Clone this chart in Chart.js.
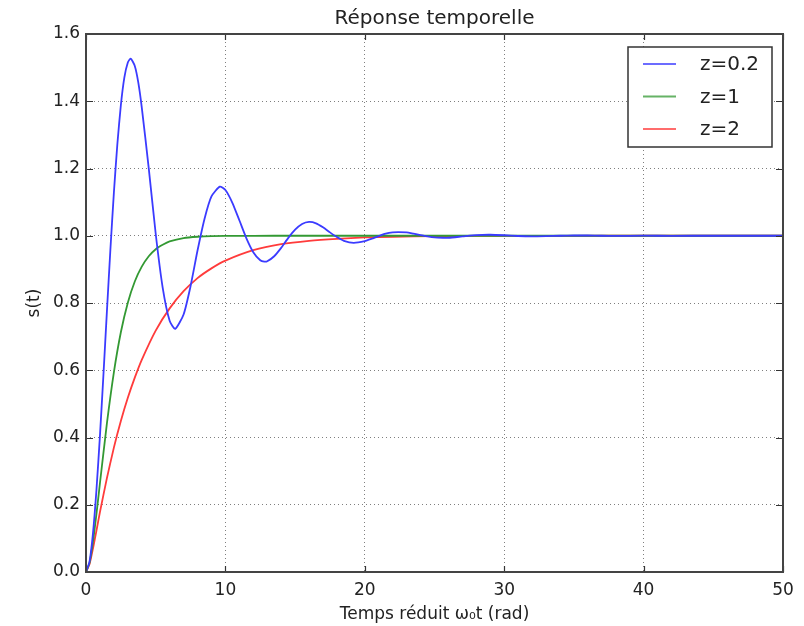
<!DOCTYPE html>
<html>
<head>
<meta charset="utf-8">
<script src="https://cdn.jsdelivr.net/npm/chart.js@4.4.1/dist/chart.umd.min.js"></script>
<style>
  html, body { margin: 0; padding: 0; background: #fff; }
  canvas { display: block; }
</style>
</head>
<body>
<canvas id="chart" width="804" height="626"></canvas>
<script>
// values
const labels = ["z=0.2", "z=1", "z=2"];

const tBlue = [0, 0.25, 0.5, 0.75, 1, 1.25, 1.5, 1.75, 2, 2.25, 2.5, 2.75, 3, 3.2, 3.5, 3.75, 4, 4.5, 5, 5.5,
  6, 6.4, 7, 7.5, 8, 8.5, 9, 9.6, 10, 10.5, 11, 11.5, 12, 12.5, 12.8, 13, 13.5, 14, 14.5, 15, 15.5,
  16, 16.5, 17, 17.5, 18, 18.5, 19.2, 20, 20.5, 21, 21.5, 22, 22.4, 23, 23.5, 24, 24.5, 25, 25.6, 26,
  27, 28, 29, 30, 31, 32, 33, 34, 35, 36, 37, 38, 40, 42, 45, 50];
const sBlue = [0, 0.030, 0.115, 0.244, 0.405, 0.586, 0.775, 0.959, 1.128, 1.273, 1.388, 1.470, 1.515, 1.527, 1.505, 1.456, 1.382, 1.201, 1.006, 0.846,
  0.747, 0.723, 0.766, 0.850, 0.956, 1.050, 1.117, 1.146, 1.136, 1.098, 1.046, 0.993, 0.951, 0.927, 0.923, 0.924, 0.939, 0.964, 0.993, 1.018, 1.035,
  1.041, 1.037, 1.025, 1.010, 0.996, 0.985, 0.979, 0.984, 0.991, 0.999, 1.006, 1.010, 1.011, 1.010, 1.006, 1.002, 0.998, 0.995, 0.994, 0.994,
  0.998, 1.002, 1.003, 1.0015, 0.9993, 0.9984, 0.999, 1.000, 1.0008, 1.0007, 1.000, 0.9996, 1.0002, 0.9999, 1.000, 1.000];

const tGreen = [0, 0.25, 0.5, 0.75, 1, 1.5, 2, 2.5, 3, 3.5, 4, 4.5, 5, 5.5, 6, 7, 8, 9, 10, 12, 15, 20, 30, 40, 50];
const sGreen = [0, 0.027, 0.090, 0.173, 0.264, 0.442, 0.594, 0.713, 0.801, 0.864, 0.908, 0.939, 0.960, 0.973, 0.983, 0.993, 0.997, 0.999, 0.9995, 0.9999, 1, 1, 1, 1, 1];

const tRed = [0, 0.25, 0.5, 0.75, 1, 1.5, 2, 2.5, 3, 3.5, 4, 5, 6, 7, 8, 9, 10, 12, 14, 16, 18, 20, 22, 25, 28, 30, 35, 40, 50];
const sRed = [0, 0.023, 0.070, 0.123, 0.178, 0.279, 0.370, 0.449, 0.518, 0.578, 0.631, 0.718, 0.784, 0.835, 0.874, 0.903, 0.926, 0.957, 0.975, 0.985, 0.991, 0.995, 0.997, 0.9987, 0.9994, 0.9997, 0.9999, 1, 1];

const xTicks = [0, 10, 20, 30, 40, 50];
const yTicks = [0, 0.2, 0.4, 0.6, 0.8, 1.0, 1.2, 1.4, 1.6];

const colors = ["#3b3bff", "#339933", "#ff3b3b"];
const FONT = "'DejaVu Sans', sans-serif";

const pts = (t, s) => t.map((x, i) => ({ x, y: s[i] }));

// frame, inward ticks and the boxed legend (matplotlib look)
const decor = {
  id: 'decor',
  afterDraw(chart) {
    const { ctx, chartArea: a, scales: { x, y } } = chart;
    ctx.save();
    ctx.strokeStyle = '#333';
    ctx.lineWidth = 1.2;
    ctx.beginPath();
    xTicks.forEach(v => {
      const px = Math.round(x.getPixelForValue(v)) + 0.5;
      ctx.moveTo(px, a.bottom); ctx.lineTo(px, a.bottom - 6);
      ctx.moveTo(px, a.top); ctx.lineTo(px, a.top + 6);
    });
    yTicks.forEach(v => {
      const py = Math.round(y.getPixelForValue(v)) + 0.5;
      ctx.moveTo(a.left, py); ctx.lineTo(a.left + 7, py);
      ctx.moveTo(a.right, py); ctx.lineTo(a.right - 7, py);
    });
    ctx.stroke();

    ctx.lineWidth = 2;
    ctx.strokeStyle = '#444';
    ctx.strokeRect(a.left, a.top, a.right - a.left, a.bottom - a.top);

    // legend
    const bw = 144, bh = 100;
    const bx = a.right - 11 - bw, by = a.top + 13;
    ctx.fillStyle = '#fff';
    ctx.fillRect(bx, by, bw, bh);
    ctx.lineWidth = 1.5;
    ctx.strokeStyle = '#333';
    ctx.strokeRect(bx, by, bw, bh);
    ctx.font = '20px ' + FONT;
    ctx.textBaseline = 'middle';
    ctx.textAlign = 'left';
    chart.data.datasets.forEach((ds, i) => {
      const ly = by + 17 + i * 32.5;
      ctx.strokeStyle = ds.borderColor;
      ctx.lineWidth = 2;
      ctx.globalAlpha = 0.75;
      ctx.beginPath();
      ctx.moveTo(bx + 15, ly); ctx.lineTo(bx + 48, ly);
      ctx.stroke();
      ctx.globalAlpha = 1;
      ctx.fillStyle = '#222';
      ctx.fillText(ds.label, bx + 72, ly + 1);
    });
    ctx.restore();
  }
};

new Chart(document.getElementById('chart'), {
  type: 'line',
  data: {
    datasets: [
      { label: labels[0], data: pts(tBlue, sBlue), borderColor: colors[0] },
      { label: labels[1], data: pts(tGreen, sGreen), borderColor: colors[1] },
      { label: labels[2], data: pts(tRed, sRed), borderColor: colors[2] },
    ],
  },
  options: {
    responsive: false,
    animation: false,
    devicePixelRatio: 1,
    layout: { padding: { left: 0, right: 21, top: 0, bottom: 0 } },
    elements: {
      line: { borderWidth: 1.8, tension: 0.2, fill: false },
      point: { radius: 0 },
    },
    plugins: {
      legend: { display: false },
      tooltip: { enabled: false },
      title: {
        display: true,
        text: 'Réponse temporelle',
        fullSize: false,
        color: '#222',
        font: { family: FONT, size: 20, weight: 'normal', lineHeight: 1.2 },
        padding: { top: 7, bottom: 3 },
      },
    },
    scales: {
      x: {
        type: 'linear',
        min: 0, max: 50,
        afterBuildTicks: s => { s.ticks = xTicks.map(v => ({ value: v })); },
        afterFit: s => { s.height = 54; },
        grid: { color: 'rgba(0,0,0,0.5)', lineWidth: 1, drawTicks: false },
        border: { display: false, dash: [1, 3] },
        ticks: {
          padding: 8,
          color: '#222',
          font: { family: FONT, size: 17 },
          callback: v => String(v),
          maxRotation: 0,
        },
        title: {
          display: true,
          text: 'Temps réduit ω₀t (rad)',
          color: '#222',
          font: { family: FONT, size: 17 },
          padding: { top: 0, bottom: 1 },
        },
      },
      y: {
        min: 0, max: 1.6,
        afterBuildTicks: s => { s.ticks = yTicks.map(v => ({ value: v })); },
        afterFit: s => { s.width = 86; },
        grid: { color: 'rgba(0,0,0,0.5)', lineWidth: 1, drawTicks: false },
        border: { display: false, dash: [1, 3] },
        ticks: {
          padding: 6,
          color: '#222',
          font: { family: FONT, size: 17 },
          callback: v => v.toFixed(1),
        },
        title: {
          display: true,
          text: 's(t)',
          color: '#222',
          font: { family: FONT, size: 17 },
          padding: { top: 24, bottom: 0 },
        },
      },
    },
  },
  plugins: [decor],
});
</script>
</body>
</html>
